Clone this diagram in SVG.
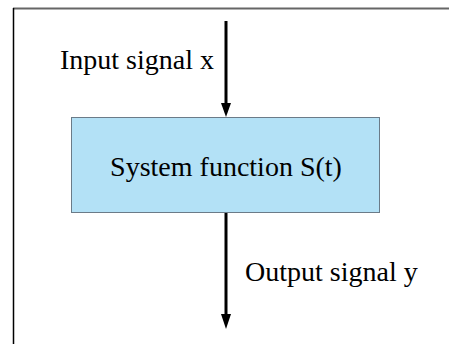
<svg xmlns="http://www.w3.org/2000/svg" width="449" height="344" viewBox="0 0 449 344">
<style>
text { font-family: "Liberation Serif", "Times New Roman", serif; font-size: 28px; fill: #000; }
.conn { stroke: #000; stroke-width: 3; fill: none; }
.head { fill: #000; }
</style>
<rect width="449" height="344" fill="#fff"/>
<g id="frame">
<line x1="13" y1="8.5" x2="449" y2="8.5" stroke="#666" stroke-width="2"/>
<line x1="13.5" y1="8" x2="13.5" y2="344" stroke="#000" stroke-width="1.5"/>
</g>
<g id="connectors">
<line class="conn" x1="226" y1="21" x2="226" y2="104"/>
<path class="head" d="M221,103 L231,103 L226,117 Z"/>
<line class="conn" x1="226" y1="213" x2="226" y2="316"/>
<path class="head" d="M221,314 L231,314 L226,329 Z"/>
</g>
<g id="input-label">
<text x="60" y="69">Input signal x</text>
</g>
<g id="system">
<rect x="71.5" y="117.5" width="308" height="95" fill="#b3e1f6" stroke="#6b7b88" stroke-width="1"/>
<text x="226" y="176" text-anchor="middle">System function S(t)</text>
</g>
<g id="output-label">
<text x="245" y="281">Output signal y</text>
</g>
</svg>
